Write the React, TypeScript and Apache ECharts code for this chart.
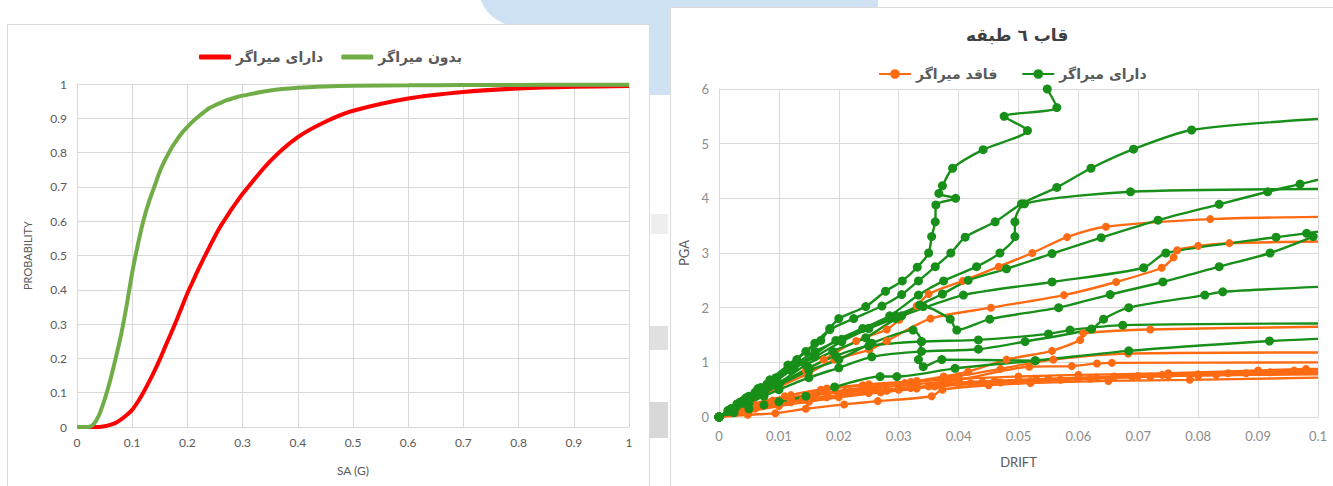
import React, { useEffect, useRef } from "react";
import * as echarts from "echarts";

// ---------- Left chart: fragility curves ----------
const saValues = [0, 0.01, 0.02, 0.03, 0.04, 0.05, 0.06, 0.07, 0.08, 0.09, 0.1, 0.11, 0.12, 0.13, 0.14, 0.15, 0.16, 0.17, 0.18, 0.19, 0.2, 0.21, 0.22, 0.23, 0.24, 0.25, 0.26, 0.27, 0.28, 0.29, 0.3, 0.35, 0.4, 0.45, 0.5, 0.6, 0.7, 0.8, 0.9, 1];
const withDamperProb = [0, 0, 0, 0, 0, 0.002, 0.006, 0.012, 0.022, 0.035, 0.05, 0.073, 0.1, 0.13, 0.162, 0.197, 0.235, 0.272, 0.31, 0.35, 0.39, 0.425, 0.46, 0.493, 0.525, 0.556, 0.585, 0.61, 0.635, 0.658, 0.68, 0.775, 0.845, 0.89, 0.922, 0.958, 0.977, 0.987, 0.992, 0.994];
const withoutDamperProb = [0, 0, 0, 0.008, 0.035, 0.08, 0.135, 0.2, 0.27, 0.355, 0.45, 0.53, 0.6, 0.655, 0.7, 0.745, 0.78, 0.81, 0.835, 0.857, 0.875, 0.891, 0.905, 0.918, 0.93, 0.938, 0.945, 0.952, 0.957, 0.962, 0.966, 0.981, 0.989, 0.993, 0.995, 0.996, 0.997, 0.997, 0.998, 0.998];
const leftLegend = ["دارای میراگر", "بدون میراگر"];

// ---------- Right chart: IDA curves, 6-storey frame ----------
const rightTitle = "قاب ٦ طبقه";
const rightLegend = ["فاقد میراگر", "دارای میراگر"];

const damped1 = [[0, 0], [0.0015, 0.12], [0.003, 0.24], [0.0045, 0.35], [0.0065, 0.52], [0.0085, 0.68], [0.0115, 0.95], [0.0145, 1.2], [0.017, 1.4], [0.0185, 1.62], [0.02, 1.8], [0.0245, 2.02], [0.0278, 2.3], [0.0306, 2.49], [0.0331, 2.74], [0.035, 3.0], [0.0355, 3.3], [0.0361, 3.57], [0.0362, 3.88], [0.0395, 4.0], [0.0367, 4.09], [0.0373, 4.23], [0.039, 4.55], [0.0441, 4.89], [0.0515, 5.24], [0.0476, 5.5], [0.0564, 5.66], [0.0548, 6.0]];
const damped2 = [[0, 0], [0.002, 0.15], [0.0035, 0.27], [0.005, 0.38], [0.007, 0.54], [0.0095, 0.72], [0.013, 1.05], [0.016, 1.35], [0.0185, 1.6], [0.0225, 1.8], [0.0272, 2.03], [0.0305, 2.24], [0.0333, 2.49], [0.0361, 2.75], [0.0387, 3.0], [0.0411, 3.29], [0.0461, 3.57], [0.0505, 3.9], [0.0564, 4.2], [0.0621, 4.55], [0.0692, 4.9], [0.0789, 5.25], [0.1, 5.45]];
const damped3 = [[0, 0], [0.0015, 0.1], [0.003, 0.2], [0.0045, 0.3], [0.0065, 0.45], [0.009, 0.62], [0.0125, 0.9], [0.016, 1.15], [0.0195, 1.4], [0.024, 1.62], [0.0285, 1.85], [0.0333, 2.23], [0.0375, 2.49], [0.043, 2.75], [0.0469, 3.0], [0.0494, 3.3], [0.0494, 3.57], [0.051, 3.9], [0.0687, 4.12], [0.1, 4.17]];
const damped4 = [[0, 0], [0.0025, 0.15], [0.005, 0.3], [0.0075, 0.46], [0.01, 0.62], [0.0145, 0.95], [0.019, 1.2], [0.0245, 1.45], [0.0295, 1.8], [0.0335, 2.05], [0.0373, 2.25], [0.0416, 2.5], [0.048, 2.71], [0.0556, 2.99], [0.0638, 3.28], [0.0733, 3.6], [0.0835, 3.89], [0.0916, 4.12], [0.097, 4.26], [0.1, 4.34]];
const damped5 = [[0, 0], [0.002, 0.15], [0.004, 0.3], [0.006, 0.45], [0.008, 0.6], [0.012, 0.9], [0.016, 1.2], [0.0205, 1.42], [0.025, 1.62], [0.0305, 1.85], [0.0408, 2.23], [0.0556, 2.47], [0.0709, 2.73], [0.0746, 3.0], [0.093, 3.29], [0.0981, 3.36], [0.1, 3.39]];
const damped6 = [[0, 0], [0.002, 0.12], [0.004, 0.25], [0.006, 0.4], [0.008, 0.55], [0.012, 0.85], [0.016, 1.1], [0.0205, 1.38], [0.025, 1.62], [0.0295, 1.85], [0.0341, 2.02], [0.0386, 1.79], [0.0397, 1.59], [0.0452, 1.79], [0.0567, 2.0], [0.0653, 2.24], [0.0741, 2.47], [0.0835, 2.75], [0.092, 3.0], [0.0992, 3.3]];
const damped7 = [[0, 0], [0.0025, 0.12], [0.005, 0.25], [0.0075, 0.38], [0.01, 0.5], [0.015, 0.72], [0.02, 0.9], [0.0255, 1.1], [0.0338, 1.2], [0.0433, 1.24], [0.0511, 1.38], [0.0622, 1.61], [0.0642, 1.79], [0.0684, 2.0], [0.0811, 2.23], [0.0841, 2.29], [0.1, 2.38]];
const damped8 = [[0, 0], [0.0025, 0.15], [0.005, 0.3], [0.0075, 0.45], [0.01, 0.6], [0.015, 0.9], [0.0195, 1.12], [0.025, 1.3], [0.0338, 1.38], [0.0433, 1.41], [0.055, 1.52], [0.0586, 1.59], [0.0674, 1.68], [0.1, 1.71]];
const damped9 = [[0, 0], [0.0025, 0.08], [0.005, 0.15], [0.0075, 0.22], [0.01, 0.28], [0.0145, 0.38], [0.0193, 0.55], [0.0269, 0.74], [0.0297, 0.74], [0.0394, 0.89], [0.0528, 1.03], [0.0684, 1.21], [0.0919, 1.39], [0.1, 1.43]];
const damped10 = [[0, 0], [0.0025, 0.15], [0.005, 0.3], [0.0075, 0.44], [0.01, 0.58], [0.015, 0.85], [0.02, 1.05], [0.0255, 1.35], [0.0324, 1.59], [0.0338, 1.38], [0.0333, 1.05], [0.0341, 0.92], [0.0372, 1.05], [0.0528, 1.03]];
const dampedRuns = [damped1, damped2, damped3, damped4, damped5, damped6, damped7, damped8, damped9, damped10];

const undamped1 = [[0, 0], [0.0025, 0.15], [0.005, 0.3], [0.0075, 0.45], [0.01, 0.6], [0.0145, 0.85], [0.0175, 1.05], [0.0229, 1.39], [0.028, 1.6], [0.0301, 1.78], [0.033, 2.03], [0.035, 2.25], [0.0407, 2.49], [0.0467, 2.75], [0.0523, 3.0], [0.0581, 3.29], [0.0646, 3.48], [0.082, 3.62], [0.1, 3.66]];
const undamped2 = [[0, 0], [0.0025, 0.14], [0.005, 0.28], [0.0075, 0.42], [0.01, 0.55], [0.015, 0.8], [0.0193, 1.05], [0.0251, 1.23], [0.028, 1.39], [0.0353, 1.8], [0.0454, 2.0], [0.0576, 2.23], [0.0663, 2.47], [0.0739, 2.73], [0.0759, 2.92], [0.0765, 3.05], [0.08, 3.13], [0.0852, 3.18], [0.1, 3.21]];
const undamped3 = [[0, 0], [0.003, 0.1], [0.006, 0.2], [0.012, 0.35], [0.018, 0.45], [0.025, 0.55], [0.031, 0.62], [0.0375, 0.74], [0.0416, 0.83], [0.048, 1.05], [0.0556, 1.21], [0.0603, 1.41], [0.0608, 1.53], [0.072, 1.6], [0.1, 1.65]];
const undamped4 = [[0, 0], [0.003, 0.11], [0.006, 0.22], [0.012, 0.4], [0.018, 0.52], [0.025, 0.6], [0.033, 0.66], [0.04, 0.75], [0.047, 0.88], [0.0558, 1.05], [0.0683, 1.16], [0.1, 1.18]];
const undamped5 = [[0, 0], [0.003, 0.09], [0.006, 0.18], [0.012, 0.32], [0.018, 0.44], [0.025, 0.52], [0.033, 0.6], [0.04, 0.68], [0.0518, 0.92], [0.0589, 0.93], [0.0631, 0.98], [0.0656, 0.99], [0.1, 1.0]];
const undamped6 = [[0, 0], [0.0048, 0.04], [0.0094, 0.07], [0.0145, 0.15], [0.0209, 0.23], [0.0265, 0.29], [0.0355, 0.38], [0.0373, 0.5], [0.045, 0.58], [0.052, 0.62], [0.065, 0.66], [0.0786, 0.68], [0.1, 0.72]];
const undamped7 = [[0, 0], [0.005, 0.1], [0.01, 0.2], [0.015, 0.28], [0.02, 0.36], [0.027, 0.45], [0.033, 0.52], [0.038, 0.62], [0.046, 0.66], [0.055, 0.7], [0.066, 0.74], [0.074, 0.77], [0.085, 0.8], [0.096, 0.85], [0.1, 0.86]];
const undamped8 = [[0, 0], [0.006, 0.15], [0.012, 0.27], [0.018, 0.36], [0.025, 0.44], [0.032, 0.53], [0.04, 0.6], [0.05, 0.66], [0.06, 0.71], [0.07, 0.75], [0.08, 0.78], [0.092, 0.82], [0.1, 0.84]];
const undamped9 = [[0, 0], [0.007, 0.2], [0.014, 0.32], [0.02, 0.4], [0.028, 0.48], [0.035, 0.56], [0.042, 0.62], [0.052, 0.66], [0.062, 0.7], [0.072, 0.74], [0.083, 0.77], [0.1, 0.8]];
const undamped10 = [[0, 0], [0.004, 0.15], [0.008, 0.26], [0.016, 0.4], [0.022, 0.47], [0.03, 0.52], [0.037, 0.58], [0.044, 0.64], [0.053, 0.68], [0.063, 0.72], [0.075, 0.76], [0.088, 0.8], [0.1, 0.82]];
const undamped11 = [[0, 0], [0.004, 0.16], [0.009, 0.3], [0.015, 0.4], [0.021, 0.46], [0.03, 0.5], [0.036, 0.56], [0.047, 0.63], [0.057, 0.68], [0.069, 0.73], [0.08, 0.76], [0.1, 0.78]];
const undamped12 = [[0, 0], [0.005, 0.22], [0.011, 0.38], [0.017, 0.5], [0.024, 0.58], [0.032, 0.64], [0.04, 0.7], [0.05, 0.74], [0.06, 0.77], [0.075, 0.8], [0.09, 0.85], [0.098, 0.88], [0.1, 0.88]];
const undampedRuns = [undamped1, undamped2, undamped3, undamped4, undamped5, undamped6, undamped7, undamped8, undamped9, undamped10, undamped11, undamped12];

const GREEN = "#178F18";
const ORANGE = "#FF6B12";
const LATIN = "Lato, 'Open Sans', sans-serif";
const ARABIC = "'DejaVu Sans', 'Noto Sans', sans-serif";

function leftOption(): any {
  const axisCommon = {
    type: "value",
    min: 0,
    max: 1,
    interval: 0.1,
    axisLine: { show: true, lineStyle: { color: "#D9D9D9", width: 1 } },
    axisTick: { show: false },
    splitLine: { show: true, lineStyle: { color: "#D9D9D9", width: 1 } },
    axisLabel: {
      color: "#595959",
      fontSize: 12,
      fontFamily: LATIN,
      formatter: (v: number) => String(+v.toFixed(2)),
    },
    nameLocation: "middle",
    nameTextStyle: { color: "#595959", fontSize: 12, fontFamily: LATIN },
  };
  return {
    animation: false,
    legend: {
      data: leftLegend,
      left: 194,
      top: 45,
      icon: "roundRect",
      itemWidth: 32,
      itemHeight: 5,
      itemGap: 18,
      textStyle: { color: "#595959", fontSize: 14, fontWeight: "bold", fontFamily: ARABIC },
    },
    grid: { left: 77, right: 31, top: 84, bottom: 59 },
    xAxis: { ...axisCommon, name: "SA (G)", nameGap: 37, axisLabel: { ...axisCommon.axisLabel, margin: 9 } },
    yAxis: { ...axisCommon, name: "PROBABILITY", nameGap: 44, nameTextStyle: { ...axisCommon.nameTextStyle, fontSize: 11 }, axisLabel: { ...axisCommon.axisLabel, margin: 10 } },
    series: [
      {
        type: "line",
        name: leftLegend[0],
        data: saValues.map((x, i) => [x, withDamperProb[i]]),
        smooth: 0.3,
        showSymbol: false,
        symbol: "none",
        lineStyle: { color: "#FF0000", width: 4 },
        itemStyle: { color: "#FF0000" },
      },
      {
        type: "line",
        name: leftLegend[1],
        data: saValues.map((x, i) => [x, withoutDamperProb[i]]),
        smooth: 0.3,
        showSymbol: false,
        symbol: "none",
        lineStyle: { color: "#70AD47", width: 4 },
        itemStyle: { color: "#70AD47" },
      },
    ],
  };
}

function runSeries(pts: number[][], name: string, color: string, size: number): any {
  return {
    type: "line",
    name,
    data: pts.map((p) => (p[0] >= 0.1 ? { value: p, symbol: "none" } : p)),
    smooth: 0.25,
    symbol: "circle",
    symbolSize: size,
    showSymbol: true,
    lineStyle: { color, width: 2.4 },
    itemStyle: { color },
    clip: true,
  };
}

function rightOption(): any {
  const axisCommon = {
    type: "value",
    axisLine: { show: true, lineStyle: { color: "#DADADA", width: 1 } },
    axisTick: { show: false },
    splitLine: { show: true, lineStyle: { color: "#DADADA", width: 1 } },
    nameLocation: "middle",
    nameTextStyle: { color: "#595959", fontSize: 13, fontFamily: LATIN },
  };
  return {
    animation: false,
    title: {
      text: rightTitle,
      left: 301,
      top: 21,
      textStyle: { color: "#404040", fontSize: 17, fontWeight: "bold", fontFamily: ARABIC },
    },
    legend: {
      data: rightLegend,
      left: 213,
      top: 62,
      itemWidth: 32,
      itemHeight: 12,
      itemGap: 24,
      textStyle: { color: "#595959", fontSize: 14, fontWeight: "bold", fontFamily: ARABIC },
    },
    grid: { left: 59, right: 15, top: 89, bottom: 69 },
    xAxis: {
      ...axisCommon,
      min: 0,
      max: 0.1,
      interval: 0.01,
      name: "DRIFT",
      nameGap: 38,
      axisLabel: { color: "#8C8C8C", fontSize: 13, fontFamily: LATIN, margin: 12, formatter: (v: number) => String(+v.toFixed(3)) },
    },
    yAxis: {
      ...axisCommon,
      min: 0,
      max: 6,
      interval: 1,
      name: "PGA",
      nameGap: 27,
      axisLabel: { color: "#8C8C8C", fontSize: 13, fontFamily: LATIN, margin: 10 },
    },
    series: [
      ...undampedRuns.map((r) => runSeries(r, rightLegend[0], ORANGE, 8)),
      ...dampedRuns.map((r) => runSeries(r, rightLegend[1], GREEN, 9)),
    ],
  };
}

function Chart({ left, width, option }: { left: number; width: number; option: any }) {
  const ref = useRef<HTMLDivElement>(null);
  useEffect(() => {
    if (!ref.current) return;
    const chart = echarts.init(ref.current, undefined, { renderer: "svg" });
    chart.setOption(option);
    return () => chart.dispose();
  }, []);
  return <div ref={ref} style={{ position: "absolute", left, top: 0, width, height: 486 }} />;
}

export default function App() {
  const blue = "#CFE2F4";
  return (
    <div style={{ position: "absolute", left: 0, top: 0, width: 1333, height: 486, overflow: "hidden", background: "#FFFFFF" }}>
      <div style={{ position: "absolute", left: 478, top: -40, width: 400, height: 66, background: blue, borderBottomLeftRadius: 40 }} />
      <div style={{ position: "absolute", left: 646, top: 0, width: 26, height: 95, background: blue }} />
      <div style={{ position: "absolute", left: 651, top: 214, width: 17, height: 20, background: "#EEEEEE" }} />
      <div style={{ position: "absolute", left: 650, top: 326, width: 18, height: 24, background: "#E0E0E0" }} />
      <div style={{ position: "absolute", left: 650, top: 402, width: 18, height: 36, background: "#D8D8D8" }} />
      <div style={{ position: "absolute", left: 7, top: 24, width: 641, height: 480, background: "#FFFFFF", border: "1px solid #D9D9D9" }} />
      <div style={{ position: "absolute", left: 670, top: 7, width: 680, height: 490, background: "#FFFFFF", border: "1px solid #D9D9D9" }} />
      <Chart left={0} width={660} option={leftOption()} />
      <Chart left={660} width={673} option={rightOption()} />
    </div>
  );
}
